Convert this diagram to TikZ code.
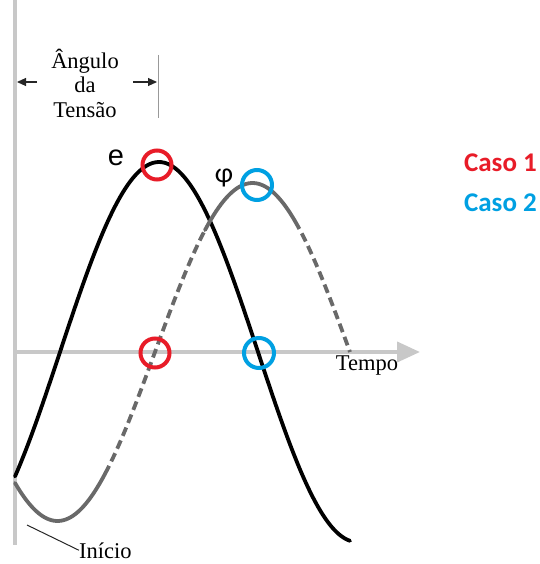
\documentclass[tikz,border=0pt]{standalone}
\usepackage{fontspec}
\setmainfont{Liberation Serif}
\newfontfamily\calib{Carlito}
\newfontfamily\arialf{Liberation Sans}
\usetikzlibrary{arrows.meta}
\definecolor{axisgray}{RGB}{200,200,200}
\definecolor{phigray}{RGB}{105,105,105}
\definecolor{casored}{RGB}{232,28,40}
\definecolor{caseblue}{RGB}{0,160,226}
\tikzset{
  axisline/.style={draw=axisgray, line width=4pt},
  ecurve/.style={draw=black, line width=3.8pt, line cap=round},
  phisolid/.style={draw=phigray, line width=3.8pt, line cap=round},
  phidash/.style={draw=phigray, line width=3.8pt, dash pattern=on 9pt off 5pt},
  ring/.style={circle, draw, line width=4pt, inner sep=0pt, minimum size=29pt},
  serifl/.style={font=\fontsize{22.5}{24.5}\selectfont, inner sep=0pt},
  dimarrow/.style={draw=black!85, line width=1.1pt, -{Triangle[length=9pt,width=8pt]}},
}
\begin{document}
\begin{tikzpicture}[x=1pt,y=-1pt]
\useasboundingbox (0,0) rectangle (539,564);
% axes
\coordinate (vtop) at (15,0);
\coordinate (vbot) at (15,545);
\coordinate (hstart) at (15,352);
\coordinate (hend) at (420,352);
\draw[axisline] (vtop) -- (vbot);
\draw[axisline, -{Triangle[length=23pt,width=20pt]}] (hstart) -- (hend);
% e curve
\draw[ecurve, domain=15:350, samples=120, smooth] plot (\x, {352-190*sin((\x-60)/198*180)});
% phi curve
\draw[phisolid, domain=15:105, samples=40, smooth] plot (\x, {352-169*sin((\x-155)/195*180)});
\draw[phidash, domain=105:205, samples=40, smooth] plot (\x, {352-169*sin((\x-155)/195*180)});
\draw[phisolid, domain=205:295, samples=40, smooth] plot (\x, {352-169*sin((\x-155)/195*180)});
\draw[phidash, domain=295:350, samples=30, smooth] plot (\x, {352-169*sin((\x-155)/195*180)});
% rings
\node[ring, draw=casored] (r1) at (157,165) {};
\node[ring, draw=casored] (r2) at (155,353) {};
\node[ring, draw=caseblue, minimum size=30pt] (b1) at (257,185) {};
\node[ring, draw=caseblue, minimum size=30pt] (b2) at (259,353) {};
% labels
\node[font=\arialf\fontsize{29}{29}\selectfont, inner sep=0pt] (elab) at (116,158) {e};
\node[font=\calib\fontsize{28}{28}\selectfont, inner sep=0pt] (philab) at (224,178) {φ};
\node[serifl, anchor=base] (tempo) at (367,370) {Tempo};
\node[serifl, anchor=base west] (inicio) at (79,558) {Início};
\coordinate (inicioline) at (27,525);
\draw[black!85, line width=1pt] (inicioline) -- (inicio.west);
\node[serifl, align=center] (ang) at (85,83) {Ângulo\\da\\Tensão};
\coordinate (la1) at (37,82);
\coordinate (la2) at (17,82);
\coordinate (ra1) at (133,82);
\coordinate (ra2) at (157,82);
\coordinate (tickt) at (158,55);
\coordinate (tickb) at (158,118);
\draw[dimarrow] (la1) -- (la2);
\draw[dimarrow] (ra1) -- (ra2);
\draw[black!40, line width=0.7pt] (tickt) -- (tickb);
\node[font=\calib\bfseries\fontsize{27}{27}\selectfont, text=casored, anchor=east, inner sep=0pt] (caso1) at (537,163) {Caso 1};
\node[font=\calib\bfseries\fontsize{27}{27}\selectfont, text=caseblue, anchor=east, inner sep=0pt] (caso2) at (537,203) {Caso 2};
\end{tikzpicture}
\end{document}
